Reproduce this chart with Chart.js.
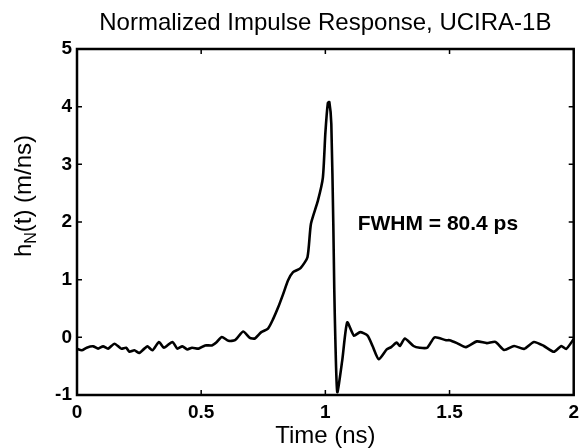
<!DOCTYPE html>
<html>
<head>
<meta charset="utf-8">
<script src="https://cdn.jsdelivr.net/npm/chart.js@4/dist/chart.umd.min.js"></script>
<style>
  html, body { margin: 0; padding: 0; background: #fff; }
  #wrap { width: 585px; height: 448px; }
</style>
</head>
<body>
<div id="wrap"><canvas id="impulseChart" width="585" height="448"></canvas></div>
<script>
// time axis (ns) and normalized response h_N(t) (m/ns)
const times = [0, 0.019, 0.039, 0.065, 0.085, 0.105, 0.125, 0.151, 0.178, 0.198,
    0.211, 0.231, 0.251, 0.271, 0.284, 0.304, 0.33, 0.35, 0.384, 0.404,
    0.424, 0.444, 0.463, 0.49, 0.516, 0.543, 0.563, 0.583, 0.61, 0.636,
    0.669, 0.696, 0.716, 0.742, 0.769, 0.79, 0.81, 0.83, 0.85, 0.87,
    0.90, 0.928, 0.942, 0.97, 0.99, 1.0, 1.01, 1.016, 1.024, 1.032,
    1.036, 1.04, 1.048, 1.068, 1.088, 1.115, 1.14, 1.17, 1.19, 1.215,
    1.247, 1.265, 1.287, 1.30, 1.32, 1.355, 1.38, 1.41, 1.44, 1.486,
    1.50, 1.53, 1.566, 1.61, 1.65, 1.685, 1.72, 1.76, 1.80, 1.84,
    1.88, 1.92, 1.95, 1.97, 2.0];
const response = [-0.2, -0.225, -0.18, -0.156, -0.196, -0.156, -0.196, -0.11, -0.196, -0.18,
    -0.25, -0.225, -0.27, -0.196, -0.156, -0.225, -0.08, -0.18, -0.08, -0.196,
    -0.156, -0.21, -0.18, -0.196, -0.14, -0.14, -0.08, 0.006, -0.06, -0.05,
    0.1, -0.01, -0.02, 0.09, 0.15, 0.32, 0.52, 0.75, 0.99, 1.13,
    1.2, 1.39, 1.97, 2.37, 2.77, 3.54, 4.06, 4.08, 3.7, 1.97,
    0.81, 0.0, -0.95, -0.4, 0.26, 0.03, 0.09, 0.03, -0.15, -0.38,
    -0.21, -0.17, -0.09, -0.15, -0.02, -0.15, -0.18, -0.18, 0.0, -0.05,
    -0.05, -0.1, -0.17, -0.07, -0.1, -0.08, -0.22, -0.15, -0.2, -0.08,
    -0.15, -0.25, -0.15, -0.2, -0.03];

const xTicks = [0, 0.5, 1, 1.5, 2];
const xTickLabels = ['0', '0.5', '1', '1.5', '2'];
const yTicks = [-1, 0, 1, 2, 3, 4, 5];

const titleText = 'Normalized Impulse Response, UCIRA-1B';
const xTitle = 'Time (ns)';
const annotation = 'FWHM = 80.4 ps';

const FONT = '"Liberation Sans", Arial, sans-serif';

// box around the plot, inward ticks, y label with subscript, FWHM note
const matlabFrame = {
    id: 'matlabFrame',
    afterDraw(chart) {
        const ctx = chart.ctx;
        const area = chart.chartArea;
        const xs = chart.scales.x;
        const ys = chart.scales.y;
        const tick = 5;
        ctx.save();
        ctx.strokeStyle = '#000';
        ctx.lineWidth = 1.5;
        xTicks.forEach(v => {
            const px = xs.getPixelForValue(v);
            ctx.beginPath();
            ctx.moveTo(px, area.bottom); ctx.lineTo(px, area.bottom - tick);
            ctx.moveTo(px, area.top); ctx.lineTo(px, area.top + tick);
            ctx.stroke();
        });
        yTicks.forEach(v => {
            const py = ys.getPixelForValue(v);
            ctx.beginPath();
            ctx.moveTo(area.left, py); ctx.lineTo(area.left + tick, py);
            ctx.moveTo(area.right, py); ctx.lineTo(area.right - tick, py);
            ctx.stroke();
        });
        ctx.lineWidth = 2.5;
        ctx.strokeRect(area.left, area.top, area.right - area.left, area.bottom - area.top);

        // y axis title: h_N(t) (m/ns)
        ctx.fillStyle = '#000';
        ctx.translate(24, 196);
        ctx.rotate(-Math.PI / 2);
        ctx.textBaseline = 'middle';
        const big = '24px ' + FONT;
        const small = '16px ' + FONT;
        ctx.font = big;
        const w1 = ctx.measureText('h').width;
        const w3 = ctx.measureText('(t) (m/ns)').width;
        ctx.font = small;
        const w2 = ctx.measureText('N').width;
        const x0 = -(w1 + w2 + w3) / 2;
        ctx.textAlign = 'left';
        ctx.font = big;
        ctx.fillText('h', x0, 0);
        ctx.font = small;
        ctx.fillText('N', x0 + w1, 8);
        ctx.font = big;
        ctx.fillText('(t) (m/ns)', x0 + w1 + w2, 0);
        ctx.restore();

        // FWHM note
        ctx.save();
        ctx.fillStyle = '#000';
        ctx.font = 'bold 21px ' + FONT;
        ctx.textAlign = 'left';
        ctx.textBaseline = 'middle';
        ctx.fillText(annotation, xs.getPixelForValue(1.13), ys.getPixelForValue(1.97));
        ctx.restore();
    }
};

new Chart(document.getElementById('impulseChart'), {
    type: 'line',
    data: {
        datasets: [{
            data: times.map((t, i) => ({ x: t, y: response[i] })),
            borderColor: '#000',
            borderWidth: 2.6,
            pointRadius: 0,
            tension: 0.2,
            fill: false
        }]
    },
    options: {
        responsive: false,
        animation: false,
        events: [],
        layout: { padding: { left: 0, right: 7, top: 0, bottom: 0 } },
        plugins: {
            legend: { display: false },
            tooltip: { enabled: false },
            title: {
                display: true,
                fullSize: false,
                text: titleText,
                color: '#000',
                font: { family: FONT, size: 24, weight: 'normal', lineHeight: 1.2 },
                padding: { top: 9, bottom: 11.2 }
            }
        },
        scales: {
            x: {
                type: 'linear',
                min: 0,
                max: 2,
                afterBuildTicks: s => { s.ticks = xTicks.map(v => ({ value: v })); },
                afterFit: s => { s.height = 53; },
                grid: { display: false, drawTicks: false },
                border: { display: false },
                ticks: {
                    autoSkip: false,
                    maxRotation: 0,
                    color: '#000',
                    padding: 6,
                    font: { family: FONT, size: 19, weight: 'bold' },
                    callback: v => xTickLabels[xTicks.indexOf(v)]
                },
                title: {
                    display: true,
                    text: xTitle,
                    color: '#000',
                    font: { family: FONT, size: 24, weight: 'normal', lineHeight: 1 },
                    padding: { top: 0, bottom: 0 }
                }
            },
            y: {
                min: -1,
                max: 5,
                afterBuildTicks: s => { s.ticks = yTicks.map(v => ({ value: v })); },
                afterFit: s => { s.width = 77; },
                grid: { display: false, drawTicks: false },
                border: { display: false },
                ticks: {
                    autoSkip: false,
                    color: '#000',
                    padding: 5,
                    font: { family: FONT, size: 19, weight: 'bold' }
                }
            }
        }
    },
    plugins: [matlabFrame]
});
</script>
</body>
</html>
